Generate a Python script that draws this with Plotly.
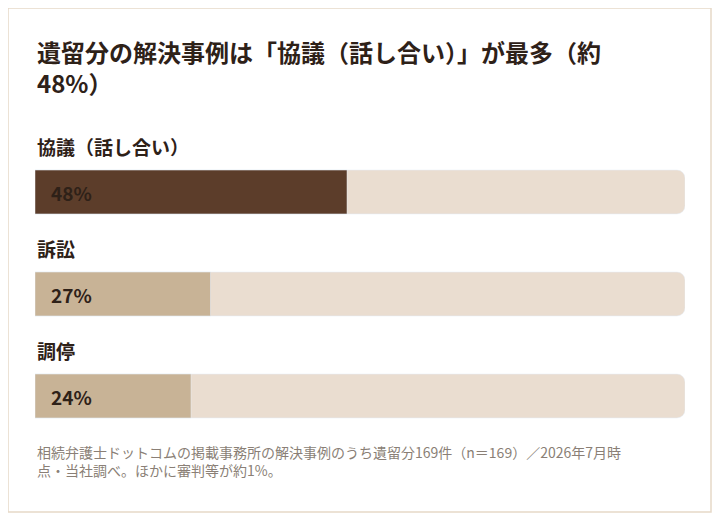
import plotly.graph_objects as go

# data
categories = ["協議（話し合い）", "訴訟", "調停"]
shares = [48, 27, 24]
bar_colors = ["#5c3d2a", "#c8b396", "#c8b396"]

FONT = "Noto Sans CJK JP"
# page body adds an 8px margin, so work in shifted pixel coordinates
W, H = 704, 505
L, R, T, B = 27, 27, 133, 66
pw, ph = W - L - R, H - T - B

ypos = list(range(len(categories)))

fig = go.Figure()
# background tracks
fig.add_trace(go.Bar(
    x=[100] * len(categories), y=ypos, orientation="h", width=0.43,
    marker=dict(color="#eaddd0", cornerradius=8), hoverinfo="skip",
))
fig.add_trace(go.Bar(
    x=shares, y=ypos, orientation="h", width=0.43,
    marker=dict(color=bar_colors, cornerradius=8),
))

for i, (cat, v) in enumerate(zip(categories, shares)):
    fig.add_annotation(x=0, y=i - 0.45, text=f"<b>{cat}</b>", showarrow=False,
                       xanchor="left", yanchor="middle",
                       font=dict(family=FONT, size=19, color="#2e2118"))
    fig.add_annotation(x=0, y=i, text=f"<b>{v}%</b>", showarrow=False,
                       xanchor="left", yanchor="middle", xshift=14,
                       font=dict(family=FONT, size=19, color="#2e2118"))

def px_x(p):
    return (p - L) / pw

def px_y(p):
    return (H - B - p) / ph

# card border
fig.add_shape(type="rect", xref="paper", yref="paper",
              x0=px_x(0), x1=px_x(703), y0=px_y(504), y1=px_y(0),
              line=dict(color="#e6d9c8", width=1.5), layer="below")

fig.add_annotation(xref="paper", yref="paper", x=px_x(27), y=px_y(24),
                   xanchor="left", yanchor="top", align="left", showarrow=False,
                   text="<b>遺留分の解決事例は「協議（話し合い）」が最多（約<br>48%）</b>",
                   font=dict(family=FONT, size=24, color="#2e2118"))
fig.add_annotation(xref="paper", yref="paper", x=px_x(27), y=px_y(432),
                   xanchor="left", yanchor="top", align="left", showarrow=False,
                   text="相続弁護士ドットコムの掲載事務所の解決事例のうち遺留分169件（n＝169）／2026年7月時<br>点・当社調べ。ほかに審判等が約1%。",
                   font=dict(family=FONT, size=14, color="#8a7f76"))

fig.update_layout(
    width=W, height=H, barmode="overlay", showlegend=False,
    margin=dict(l=L, r=R, t=T, b=B),
    paper_bgcolor="white", plot_bgcolor="white",
    xaxis=dict(range=[0, 100], visible=False, fixedrange=True),
    yaxis=dict(range=[2.5, -0.5], visible=False, fixedrange=True),
)

fig.write_html("out.html")
